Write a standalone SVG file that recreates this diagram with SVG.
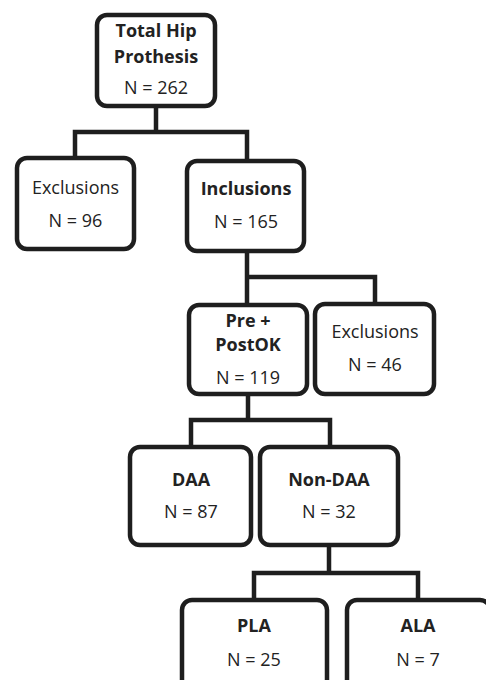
<svg xmlns="http://www.w3.org/2000/svg" width="486" height="680" viewBox="0 0 486 680">
<style>
.box{fill:#fff;stroke:#1e1e1e;stroke-width:4.5}
.c{fill:none;stroke:#1e1e1e;stroke-width:4.5;stroke-linejoin:miter;stroke-linecap:square}
text{font-family:"Open Sans","DejaVu Sans",sans-serif;font-size:18px;fill:#222;text-anchor:middle}
.b{font-weight:bold}
</style>
<rect width="486" height="680" fill="#fff"/>
<g id="connectors">
<path class="c" d="M156,107 V132 M75,157 V132 H247 V160"/>
<path class="c" d="M247,252 V277 M247,304 V277 H375 V303"/>
<path class="c" d="M248,395 V420 M191,446 V420 H330 V446"/>
<path class="c" d="M329,546 V573 M254,599 V573 H418 V599"/>
</g>
<g id="total">
<rect class="box" x="97" y="15" width="118" height="91" rx="10"/>
<text class="b" x="156" y="37">Total Hip</text>
<text class="b" x="156" y="63">Prothesis</text>
<text x="156" y="94">N = 262</text>
</g>
<g id="exclusions1">
<rect class="box" x="17" y="158" width="117" height="91" rx="10"/>
<text x="75.5" y="194">Exclusions</text>
<text x="75.5" y="227">N = 96</text>
</g>
<g id="inclusions">
<rect class="box" x="187" y="161" width="117" height="90" rx="10"/>
<text class="b" x="246" y="195">Inclusions</text>
<text x="246" y="228">N = 165</text>
</g>
<g id="prepost">
<rect class="box" x="189" y="305" width="118" height="89" rx="10"/>
<text class="b" x="248" y="327">Pre +</text>
<text class="b" x="248" y="351">PostOK</text>
<text x="248" y="384">N = 119</text>
</g>
<g id="exclusions2">
<rect class="box" x="315" y="304" width="119" height="90" rx="10"/>
<text x="375" y="338">Exclusions</text>
<text x="375" y="371">N = 46</text>
</g>
<g id="daa">
<rect class="box" x="130" y="447" width="121" height="98" rx="10"/>
<text class="b" x="191" y="486">DAA</text>
<text x="191" y="518">N = 87</text>
</g>
<g id="nondaa">
<rect class="box" x="260" y="447" width="138" height="98" rx="10"/>
<text class="b" x="329" y="486">Non-DAA</text>
<text x="329" y="518">N = 32</text>
</g>
<g id="pla">
<rect class="box" x="182" y="600" width="145" height="110" rx="10"/>
<text class="b" x="254" y="632">PLA</text>
<text x="254" y="666">N = 25</text>
</g>
<g id="ala">
<rect class="box" x="347" y="600" width="143" height="110" rx="10"/>
<text class="b" x="418" y="632">ALA</text>
<text x="418" y="666">N = 7</text>
</g>
</svg>
